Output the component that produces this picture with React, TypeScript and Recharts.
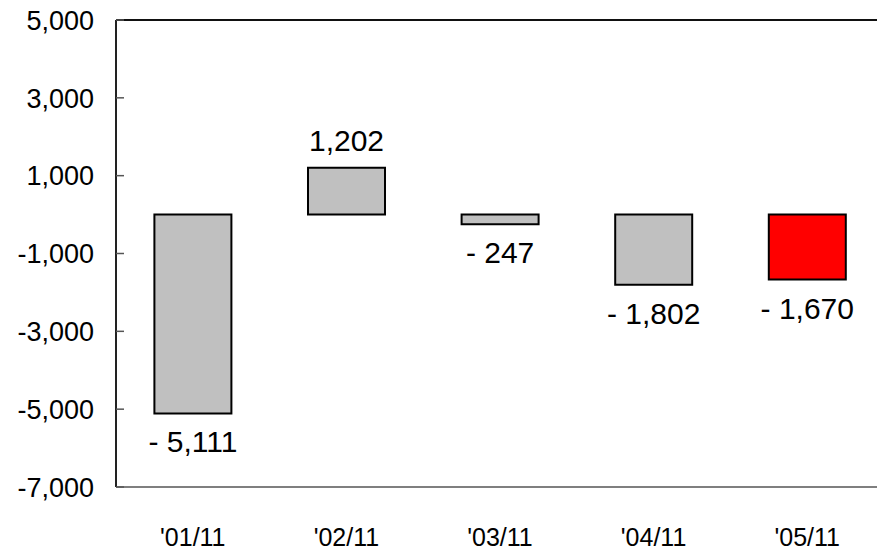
import { BarChart, Bar, XAxis, YAxis, Cell, LabelList, ReferenceLine } from "recharts";

const months = ["'01/11", "'02/11", "'03/11", "'04/11", "'05/11"];
const values = [-5111, 1202, -247, -1802, -1670];
const yTicks = [-7000, -5000, -3000, -1000, 1000, 3000, 5000];

const data = months.map((m, i) => ({ month: m, value: values[i] }));

const FONT = "'Liberation Sans', Arial, sans-serif";
const AXIS_W = 116;

function fmtTick(v: number) {
  return v.toLocaleString("en-US");
}

function fmtValue(v: number) {
  const s = Math.abs(v).toLocaleString("en-US");
  return v < 0 ? "- " + s : s;
}

// y tick: label right-aligned left of the axis, short tick mark pointing inward
function YTick(props: any) {
  const { y, payload } = props;
  return (
    <g>
      <line x1={AXIS_W} x2={AXIS_W + 8} y1={y} y2={y} stroke="#555" strokeWidth={1.5} />
      <text x={AXIS_W - 22} y={y} dy="0.36em" textAnchor="end" fontSize={27} fontFamily={FONT} fill="#000">
        {fmtTick(payload.value)}
      </text>
    </g>
  );
}

function ValueLabel(props: any) {
  const { x, y, width, height, value } = props;
  const top = Math.min(y, y + height);
  const bottom = Math.max(y, y + height);
  const ty = value >= 0 ? top - 17 : bottom + 39;
  return (
    <text x={x + width / 2} y={ty} textAnchor="middle" fontSize={30} fontFamily={FONT} fill="#000">
      {fmtValue(value)}
    </text>
  );
}

export default function App() {
  return (
    <div style={{ position: "absolute", left: 0, top: 0, width: 877, height: 551, overflow: "hidden", background: "#fff" }}>
      <BarChart
        width={884}
        height={551}
        data={data}
        margin={{ top: 20, right: 0, left: 0, bottom: 0 }}
        barCategoryGap="25%"
      >
        <XAxis
          dataKey="month"
          height={64}
          tickLine={false}
          tickSize={0}
          tickMargin={41}
          axisLine={{ stroke: "#555", strokeWidth: 1.5 }}
          tick={{ fontSize: 25, fontFamily: FONT, fill: "#000" }}
        />
        <YAxis
          width={AXIS_W}
          domain={[-7000, 5000]}
          ticks={yTicks}
          interval={0}
          tickLine={false}
          tickSize={0}
          tickMargin={22}
          axisLine={{ stroke: "#222", strokeWidth: 2 }}
          tick={<YTick />}
        />
        <ReferenceLine y={5000} stroke="#111" strokeWidth={2} />
        <Bar dataKey="value" stroke="#000" strokeWidth={2} isAnimationActive={false}>
          {data.map((d, i) => (
            <Cell key={d.month} fill={i === data.length - 1 ? "#FF0000" : "#C0C0C0"} />
          ))}
          <LabelList dataKey="value" content={<ValueLabel />} />
        </Bar>
      </BarChart>
    </div>
  );
}
